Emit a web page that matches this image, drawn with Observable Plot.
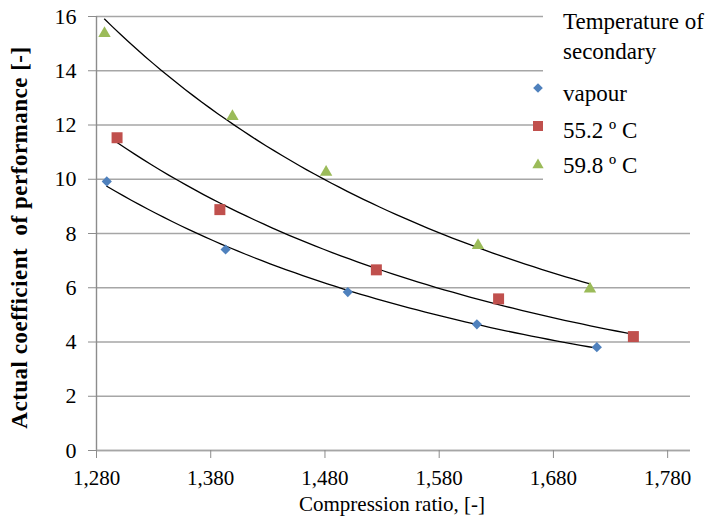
<!DOCTYPE html>
<html><head><meta charset="utf-8">
<script src="https://cdn.jsdelivr.net/npm/d3@7"></script>
<script src="https://cdn.jsdelivr.net/npm/@observablehq/plot@0.6"></script>
<style>
body{margin:0;background:#fff;}
#wrap{position:relative;width:713px;height:521px;font-family:'Liberation Serif','Times New Roman',serif;color:#000;}
#wrap svg text{font-family:'Liberation Serif','Times New Roman',serif;}
#legend{position:absolute;left:543px;top:0;width:170px;height:183px;background:#fff;}
#legend .t{position:absolute;left:20px;font-size:23px;line-height:1;white-space:nowrap;font-family:'Liberation Serif','Times New Roman',serif;}
#legend svg{position:absolute;overflow:visible;}
</style></head><body><div id="wrap"></div>
<script>
// Data
const seriesNames = ["vapour", "55.2 º C", "59.8 º C"];
const legendTitle = ["Temperature of", "secondary"];
const colors = ["#4f81bd", "#c0504d", "#9bbb59"];
const xVapour = [1.289, 1.393, 1.500, 1.613, 1.718];
const yVapour = [9.92, 7.41, 5.84, 4.65, 3.81];
const x552 = [1.298, 1.388, 1.525, 1.632, 1.750];
const y552 = [11.53, 8.88, 6.66, 5.59, 4.20];
const x598 = [1.287, 1.399, 1.481, 1.614, 1.712];
const y598 = [15.38, 12.32, 10.26, 7.56, 5.96];
const xTicks = [1.28, 1.38, 1.48, 1.58, 1.68, 1.78];
const yTicks = [0, 2, 4, 6, 8, 10, 12, 14, 16];
const xLabel = "Compression ratio, [-]";
const yLabel = "Actual coefficient  of performance [-]";

const toRows = (xs, ys, s) => xs.map((x, i) => ({x, y: ys[i], s}));
const rows = [toRows(xVapour, yVapour, 0), toRows(x552, y552, 1), toRows(x598, y598, 2)];

// Power trendline (least squares in log-log space), like a spreadsheet "power" trendline
function powerTrend(data) {
  const lx = data.map(d => Math.log(d.x)), ly = data.map(d => Math.log(d.y));
  const mx = d3.mean(lx), my = d3.mean(ly);
  const b = d3.sum(lx, (v, i) => (v - mx) * (ly[i] - my)) / d3.sum(lx, v => (v - mx) ** 2);
  const a = Math.exp(my - b * mx);
  const [x0, x1] = d3.extent(data, d => d.x);
  return d3.range(0, 61).map(i => { const x = x0 + (x1 - x0) * i / 60; return {x, y: a * Math.pow(x, b)}; });
}
const trends = rows.map(powerTrend);

const fmtX = d => d3.format(".3f")(d).replace(".", ",");
const symbols = ["diamond2", "square", "triangle"];
const radii = [4.6, 6.2, 4.6];
const serif = "'Liberation Serif', 'Times New Roman', serif";

const chart = Plot.plot({
  width: 713, height: 521,
  marginLeft: 96, marginRight: 23, marginTop: 16, marginBottom: 71,
  style: {fontFamily: serif, fontSize: "22px", background: "#fff", color: "#000"},
  x: {domain: [1.28, 1.80]},
  y: {domain: [0, 16]},
  marks: [
    Plot.gridY(yTicks, {stroke: "#a6a6a6", strokeOpacity: 1, strokeWidth: 1.6}),
    Plot.ruleX([1.28], {stroke: "#8c8c8c", strokeWidth: 1.4}),
    Plot.ruleY([0], {stroke: "#a6a6a6", strokeWidth: 1.6}),
    Plot.axisX({ticks: xTicks, tickFormat: fmtX, tickSize: 8, tickPadding: 12, stroke: "#8c8c8c", label: null, fontFamily: serif, fontSize: 21}),
    Plot.axisY({ticks: yTicks, tickSize: 8, tickPadding: 12, stroke: "#8c8c8c", label: null, fontFamily: serif, fontSize: 22}),
    ...trends.map(t => Plot.line(t, {x: "x", y: "y", stroke: "#000", strokeWidth: 1.3, curve: "linear"})),
    ...rows.map((r, i) => Plot.dot(r, {x: "x", y: "y", symbol: () => symbols[i], r: radii[i], fill: colors[i], stroke: "none"})),
    Plot.text([xLabel], {frameAnchor: "bottom", textAnchor: "middle", lineAnchor: "middle", dy: 54, dx: -1.5, fontSize: 21, fontFamily: serif, fill: "#000"}),
    Plot.text([yLabel], {frameAnchor: "left", textAnchor: "middle", lineAnchor: "middle", rotate: -90, dx: -77, dy: 4, fontSize: 23, fontFamily: serif, fontWeight: "bold", fill: "#000"})
  ]
});
const wrap = document.getElementById("wrap");
wrap.appendChild(chart);
// slight letter spacing on the rotated y label to match the reference's proportions
chart.querySelectorAll("text").forEach(t => { if (t.textContent === yLabel) t.setAttribute("letter-spacing", "0.5"); });

// Legend (HTML, white box over the top-right of the plot)
const leg = document.createElement("div");
leg.id = "legend";
const lines = [
  {text: legendTitle[0], y: 22},
  {text: legendTitle[1], y: 52},
  {text: seriesNames[0], y: 94, s: 0, my: 88},
  {text: seriesNames[1], y: 131, s: 1, my: 126},
  {text: seriesNames[2], y: 166, s: 2, my: 165}
];
for (const l of lines) {
  const t = document.createElement("div");
  t.className = "t"; t.textContent = l.text;
  t.style.top = (l.y - 12) + "px";
  leg.appendChild(t);
  if (l.s !== undefined) {
    const ns = "http://www.w3.org/2000/svg";
    const svg = document.createElementNS(ns, "svg");
    svg.setAttribute("width", 12); svg.setAttribute("height", 12);
    svg.style.left = "-11px"; svg.style.top = (l.my - 6) + "px";
    const p = document.createElementNS(ns, "path");
    const sym = [d3.symbolDiamond2, d3.symbolSquare, d3.symbolTriangle][l.s];
    p.setAttribute("d", d3.symbol(sym, [60, 100, 55][l.s])());
    p.setAttribute("transform", "translate(6,6)");
    p.setAttribute("fill", colors[l.s]);
    svg.appendChild(p);
    leg.appendChild(svg);
  }
}
wrap.appendChild(leg);
</script>
</body></html>
